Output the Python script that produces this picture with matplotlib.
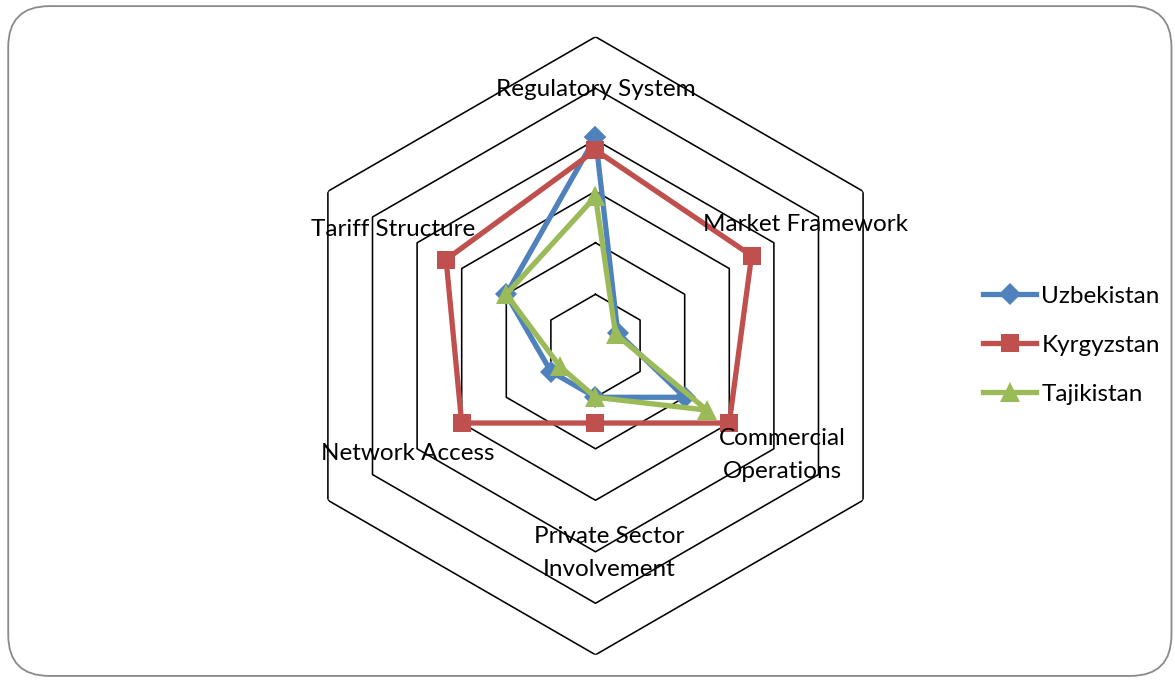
import numpy as np
import matplotlib.pyplot as plt
from matplotlib.patches import FancyBboxPatch

# axes in clockwise order starting at the top
categories = ["Regulatory System", "Market Framework", "Commercial\nOperations",
              "Private Sector\nInvolvement", "Network Access", "Tariff Structure"]
uzbekistan = [4.05, 0.5, 2.0, 1.0, 1.0, 2.0]
kyrgyzstan = [3.8, 3.5, 3.0, 1.5, 3.0, 3.35]
tajikistan = [2.9, 0.45, 2.5, 1.0, 0.8, 2.0]
ring_levels = [1, 2, 3, 4, 5, 6]

plt.rcParams["font.family"] = ["Lato", "DejaVu Sans"]

fig = plt.figure(figsize=(11.75, 6.8), dpi=100)
fig.patches.append(FancyBboxPatch((0.007, 0.006), 0.99, 0.985, transform=fig.transFigure,
                                  boxstyle="round,pad=0,rounding_size=0.035",
                                  facecolor="none", edgecolor="#8a8a8a", linewidth=1.3,
                                  mutation_aspect=1175 / 680, zorder=-10))

ax = fig.add_axes([0.2438, 0.0371, 0.526, 0.9088], projection="polar")
ax.set_theta_offset(np.pi / 2)
ax.set_theta_direction(-1)
ax.set_ylim(0, 6)
ax.grid(False)
ax.set_xticks([])
ax.set_yticks([])
ax.spines["polar"].set_visible(False)
ax.patch.set_alpha(0)

n = len(categories)
angles = np.arange(n) * 2 * np.pi / n
closed = np.append(angles, angles[0])

# hexagonal gridlines
for lvl in ring_levels:
    ax.plot(closed, [lvl] * (n + 1), color="black", linewidth=1.15, zorder=1)

series = [("Uzbekistan", uzbekistan, "#4F81BD", "D", 11),
          ("Kyrgyzstan", kyrgyzstan, "#C0504D", "s", 13),
          ("Tajikistan", tajikistan, "#9BBB59", "^", 14)]
for name, vals, col, mk, ms in series:
    ax.plot(closed, vals + vals[:1], color=col, linewidth=3.8, marker=mk,
            markersize=ms, markeredgewidth=0, label=name, zorder=3)

# category labels (theta in degrees clockwise from top, r in ring units)
label_pos = [(0, 4.97), (60, 4.7), (120.3, 4.2), (176.3, 4.03), (240.2, 4.21), (299.8, 4.53)]
for text, (th, r) in zip(categories, label_pos):
    ax.text(np.deg2rad(th), r, text, ha="center", va="center", fontsize=17.5,
            color="black", linespacing=1.75, zorder=4)

fig.legend(loc="center left", bbox_to_anchor=(0.818, 0.492), frameon=False,
           fontsize=17.5, handlelength=2.2, handletextpad=0.2, labelspacing=1.15)

fig.savefig("out.png", dpi=100)
